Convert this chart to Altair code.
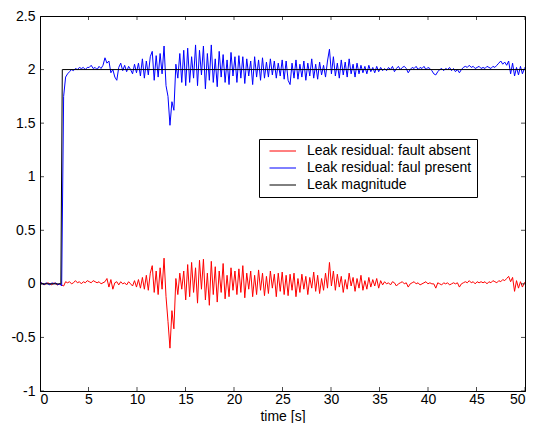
import altair as alt
import pandas as pd

# ---------------- data ----------------
series_names = ["Leak residual: fault absent", "Leak residual: faul present", "Leak magnitude"]
series_colors = ["#ff0000", "#0000ff", "#000000"]

sample_step = 0.203  # seconds between the samples

# residual with fault absent
red_values = [
    0.00, 0.01, -0.01, 0.00, 0.01, 0.00, -0.01, 0.01, 0.00, -0.01, 0.00, -0.01, -0.02, 0.02, 0.01, 0.02, 0.00, 0.01, 0.03, 0.01, 0.02, 0.00, 0.02, 0.01, 0.03,
    0.02, 0.01, 0.03, 0.02, 0.01, 0.02, 0.00, 0.01, 0.02, 0.05, -0.03, 0.04, -0.05, 0.01, 0.02, -0.01, 0.02, 0.00, 0.01, -0.01, 0.02, 0.00, -0.02, 0.03, -0.03,
    0.04, -0.04, 0.06, -0.05, 0.08, -0.06, 0.10, 0.17, -0.08, 0.12, -0.10, 0.15, -0.05, 0.24, -0.12, -0.35, -0.60, -0.25, -0.42, 0.05, -0.10, 0.10, -0.05, 0.12, -0.15,
    0.18, -0.12, 0.20, -0.08, 0.15, -0.18, 0.22, -0.05, 0.23, -0.15, 0.10, -0.20, 0.21, -0.10, 0.16, -0.17, 0.12, -0.08, 0.19, -0.14, 0.08, -0.12, 0.15, -0.06, 0.12,
    -0.10, 0.14, -0.08, 0.17, -0.13, 0.10, -0.05, 0.12, -0.12, 0.08, -0.10, 0.13, -0.06, 0.10, -0.11, 0.07, -0.09, 0.12, -0.04, 0.09, -0.12, 0.10, -0.07, 0.11, -0.10,
    0.08, -0.11, 0.09, -0.06, 0.10, -0.12, 0.05, -0.08, 0.09, -0.05, 0.07, -0.10, 0.06, -0.04, 0.11, -0.07, 0.08, -0.09, 0.05, -0.06, 0.10, -0.04, 0.20, -0.02, 0.12,
    -0.06, 0.09, -0.03, 0.07, -0.08, 0.04, -0.05, 0.10, -0.02, 0.06, -0.07, 0.05, -0.04, 0.08, -0.06, 0.03, -0.05, 0.06, -0.03, 0.04, -0.02, 0.05, -0.04, 0.03, -0.01,
    0.02, 0.00, 0.01, -0.01, 0.02, 0.01, -0.02, 0.00, 0.01, 0.02, 0.00, 0.01, -0.03, 0.00, 0.01, 0.02, 0.00, 0.01, -0.01, 0.00, 0.01, 0.02, 0.00, 0.01, 0.00,
    0.00, -0.04, 0.01, 0.00, -0.01, 0.01, 0.00, 0.01, -0.01, 0.00, 0.01, 0.00, 0.01, -0.03, 0.00, 0.01, 0.02, 0.01, 0.03, 0.01, 0.02, 0.00, 0.02, 0.01, 0.02,
    0.01, 0.02, 0.00, 0.02, 0.01, 0.03, 0.02, 0.01, 0.03, 0.02, 0.04, 0.03, 0.05, 0.07, 0.02, 0.06, -0.07, 0.03, -0.04, 0.02, -0.03, 0.01, 0.03, -0.01, 0.02, 0.00,
]

# residual with fault present
blue_values = [
    0.00, 0.01, -0.01, 0.01, 0.00, -0.01, 0.01, 0.00, 0.01, -0.01, 0.00, -0.02, 1.75, 1.93, 1.96, 1.98, 2.00, 1.99, 2.01, 2.00, 2.02, 2.01, 2.02, 2.00, 2.02,
    2.02, 2.04, 2.01, 2.02, 2.00, 2.03, 2.01, 2.04, 2.11, 2.06, 2.08, 1.97, 2.00, 1.93, 1.90, 2.02, 2.06, 1.99, 2.04, 1.98, 2.03, 2.00, 1.96, 2.05, 1.97,
    2.06, 1.94, 2.10, 1.92, 2.08, 1.95, 2.12, 2.17, 1.90, 2.13, 1.93, 2.15, 1.96, 2.22, 1.85, 1.75, 1.48, 1.70, 1.62, 2.05, 1.92, 2.15, 1.88, 2.18, 1.85,
    2.20, 1.88, 2.12, 1.92, 2.23, 1.85, 2.18, 1.95, 2.22, 1.82, 2.15, 1.90, 2.23, 1.88, 2.10, 1.84, 2.17, 1.93, 2.14, 1.88, 2.09, 1.86, 2.16, 1.94, 2.12,
    1.88, 2.13, 1.92, 2.12, 1.87, 2.10, 1.94, 2.08, 1.86, 2.12, 1.93, 2.09, 1.90, 2.11, 1.92, 2.07, 1.93, 2.10, 1.95, 2.08, 1.92, 2.06, 1.94, 2.09, 1.91,
    2.08, 1.90, 1.86, 2.06, 1.92, 2.09, 1.91, 2.05, 1.93, 2.08, 1.90, 2.06, 1.94, 2.10, 1.92, 2.05, 1.91, 2.07, 1.95, 2.04, 1.93, 2.08, 2.19, 1.96, 2.12,
    1.94, 2.06, 1.92, 2.09, 1.95, 2.07, 1.93, 2.10, 1.96, 2.05, 1.93, 2.06, 1.96, 2.04, 1.97, 2.03, 1.96, 2.04, 1.98, 2.02, 1.97, 2.03, 1.98, 2.02, 1.99,
    2.01, 1.99, 2.02, 2.00, 2.03, 1.98, 2.01, 2.03, 2.00, 2.02, 2.03, 2.01, 1.97, 2.00, 2.02, 2.01, 2.03, 2.00, 2.02, 2.01, 2.03, 2.00, 2.02, 2.01, 1.99,
    1.96, 1.95, 1.98, 2.00, 2.01, 1.99, 2.01, 2.00, 2.02, 1.99, 2.01, 1.98, 2.00, 1.97, 2.00, 2.02, 2.03, 2.02, 2.04, 2.02, 2.03, 2.01, 2.02, 2.03, 2.01,
    2.02, 2.01, 2.03, 2.02, 2.01, 2.03, 2.02, 2.04, 2.06, 2.08, 2.05, 2.07, 2.04, 2.08, 1.96, 2.06, 1.94, 2.02, 1.95, 2.03, 1.96, 2.01, 2.04, 1.97, 2.02, 2.00,
]

# leak magnitude (step)
mag_times = [0.0, 2.15, 2.3, 50.0]
mag_values = [0.0, 0.0, 2.0, 2.0]

x_ticks = [0, 5, 10, 15, 20, 25, 30, 35, 40, 45, 50]
y_ticks = [-1, -0.5, 0, 0.5, 1, 1.5, 2, 2.5]
x_domain = [0, 50]
y_domain = [-1, 2.5]

# ---------------- tables ----------------
red_df = pd.DataFrame({"t": [i * sample_step for i in range(len(red_values))],
                       "v": red_values, "series": series_names[0]})
blue_df = pd.DataFrame({"t": [i * sample_step for i in range(len(blue_values))],
                        "v": blue_values, "series": series_names[1]})
mag_df = pd.DataFrame({"t": mag_times, "v": mag_values, "series": series_names[2]})
xt_df = pd.DataFrame({"t": x_ticks})
yt_df = pd.DataFrame({"v": y_ticks})

FONT = "Liberation Sans"

x_enc = alt.X("t:Q", scale=alt.Scale(domain=x_domain, nice=False, zero=False),
              axis=alt.Axis(values=x_ticks, title="time [s]", ticks=False, tickSize=0,
                            labelPadding=1, titlePadding=14, titleBaseline="alphabetic",
                            labelFlush=3, labelOverlap=False,
                            labelExpr="'' + datum.value"))
y_enc = alt.Y("v:Q", scale=alt.Scale(domain=y_domain, nice=False, zero=False),
              axis=alt.Axis(values=y_ticks, title=None, ticks=False, tickSize=0,
                            labelPadding=5, labelFlush=False, labelOverlap=False,
                            labelExpr="'' + datum.value"))
color_enc = alt.Color("series:N", title=None,
                      scale=alt.Scale(domain=series_names, range=series_colors),
                      legend=alt.Legend(symbolType="M-0.3,0H5", symbolSize=100,
                                        symbolStrokeWidth=1, labelOffset=29,
                                        rowPadding=3, labelLimit=400))


def line(df):
    return alt.Chart(df).mark_line(strokeWidth=1, clip=True).encode(x=x_enc, y=y_enc, color=color_enc)


tick_style = dict(color="black", thickness=1, size=8, clip=True)
ticks_bottom = alt.Chart(xt_df).mark_tick(orient="vertical", **tick_style).encode(
    x=alt.X("t:Q"), y=alt.datum(y_domain[0]))
ticks_top = alt.Chart(xt_df).mark_tick(orient="vertical", **tick_style).encode(
    x=alt.X("t:Q"), y=alt.datum(y_domain[1]))
ticks_left = alt.Chart(yt_df).mark_tick(orient="horizontal", **tick_style).encode(
    y=alt.Y("v:Q"), x=alt.datum(x_domain[0]))
ticks_right = alt.Chart(yt_df).mark_tick(orient="horizontal", **tick_style).encode(
    y=alt.Y("v:Q"), x=alt.datum(x_domain[1]))

chart = alt.layer(
    line(red_df), line(blue_df), line(mag_df),
    ticks_bottom, ticks_top, ticks_left, ticks_right,
).properties(
    width=485, height=375,
    padding={"left": 32, "top": 8, "right": 3, "bottom": 32},
    autosize=alt.AutoSizeParams(type="none"),
    background="white",
).configure_view(
    stroke="black", strokeWidth=1,
).configure_axis(
    grid=False, domainColor="black", domainWidth=1,
    labelFont=FONT, labelFontSize=14, labelColor="black",
    titleFont=FONT, titleFontSize=14, titleColor="black", titleFontWeight="normal",
).configure_legend(
    orient="none", legendX=219, legendY=123,
    strokeColor="black", fillColor="white", padding=5,
    labelFont=FONT, labelFontSize=14, labelColor="black",
    cornerRadius=0,
)

chart.save("out.html", embed_options={"renderer": "svg", "actions": False})
